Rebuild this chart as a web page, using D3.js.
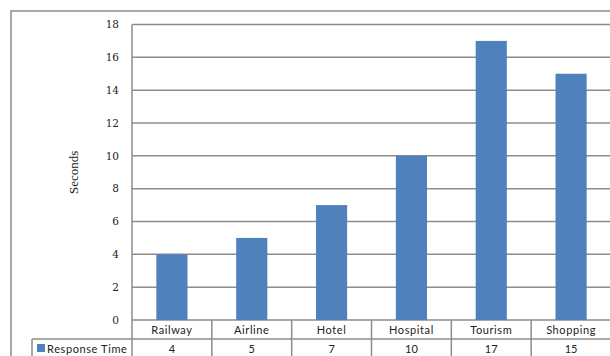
<!DOCTYPE html>
<html>
<head>
<meta charset="utf-8">
<script src="https://cdn.jsdelivr.net/npm/d3@7"></script>
<style>
  body { margin: 0; background: #fff; }
</style>
</head>
<body>
<div id="chart"></div>
<script>
// data
const categories = ["Railway", "Airline", "Hotel", "Hospital", "Tourism", "Shopping"];
const responseTime = [4, 5, 7, 10, 17, 15];
const yTicks = [0, 2, 4, 6, 8, 10, 12, 14, 16, 18];
const seriesName = "Response Time";
const yTitle = "Seconds";

const width = 610, height = 356;
const plot = { left: 132, right: 611, top: 24.5, bottom: 320 };
const rowH = 19;
const legendLeft = 32;
const gridColor = "#8c8c8c";
const barColor = "#4f81bd";

const svg = d3.select("#chart").append("svg")
    .attr("width", width)
    .attr("height", height);

// outer chart border (partly cut off)
svg.append("rect")
    .attr("x", 11).attr("y", 11)
    .attr("width", 640).attr("height", 400)
    .attr("fill", "none")
    .attr("stroke", gridColor)
    .attr("stroke-width", 1.5);

const x = d3.scaleBand()
    .domain(categories)
    .range([plot.left, plot.right])
    .paddingInner(0)
    .paddingOuter(0);

const y = d3.scaleLinear()
    .domain([0, 18])
    .range([plot.bottom, plot.top]);

// gridlines
svg.append("g")
    .selectAll("line")
    .data(yTicks)
    .enter()
    .append("line")
    .attr("x1", plot.left)
    .attr("x2", plot.right)
    .attr("y1", d => y(d))
    .attr("y2", d => y(d))
    .attr("stroke", gridColor)
    .attr("stroke-width", 1.5);

// y tick labels
svg.append("g")
    .selectAll("text")
    .data(yTicks)
    .enter()
    .append("text")
    .attr("x", 119)
    .attr("y", d => y(d))
    .attr("dy", "0.35em")
    .attr("text-anchor", "end")
    .style("font-family", "'DejaVu Serif', serif")
    .style("font-size", "10.5px")
    .style("fill", "#222")
    .text(d => d);

// axis title
svg.append("text")
    .attr("transform", `translate(78,${(plot.top + plot.bottom) / 2}) rotate(-90)`)
    .attr("text-anchor", "middle")
    .style("font-family", "'Liberation Serif', serif")
    .style("font-size", "13px")
    .style("fill", "#222")
    .text(yTitle);

// bars
const barW = x.bandwidth() * 0.39;
svg.append("g")
    .selectAll("rect")
    .data(categories)
    .enter()
    .append("rect")
    .attr("x", (d, i) => x(d) + (x.bandwidth() - barW) / 2)
    .attr("y", (d, i) => y(responseTime[i]))
    .attr("width", barW)
    .attr("height", (d, i) => y(0) - y(responseTime[i]))
    .attr("fill", barColor);

// data table
const table = svg.append("g");
const lineStyle = sel => sel.attr("stroke", gridColor).attr("stroke-width", 1.5);

// plot left edge down through table
table.append("line")
    .attr("x1", plot.left).attr("x2", plot.left)
    .attr("y1", plot.top).attr("y2", height + 5)
    .call(lineStyle);

// row line between category and value rows
table.append("line")
    .attr("x1", legendLeft).attr("x2", plot.right)
    .attr("y1", plot.bottom + rowH).attr("y2", plot.bottom + rowH)
    .call(lineStyle);

// legend cell left edge
table.append("line")
    .attr("x1", legendLeft).attr("x2", legendLeft)
    .attr("y1", plot.bottom + rowH).attr("y2", height + 5)
    .call(lineStyle);

// column separators
table.selectAll(".sep")
    .data(categories.slice(1))
    .enter()
    .append("line")
    .attr("x1", d => x(d)).attr("x2", d => x(d))
    .attr("y1", plot.bottom).attr("y2", height + 5)
    .call(lineStyle);

const cellFont = "'Lato', 'Open Sans', sans-serif";

// category labels
table.selectAll(".cat")
    .data(categories)
    .enter()
    .append("text")
    .attr("x", d => x(d) + x.bandwidth() / 2)
    .attr("y", plot.bottom + rowH / 2 + 0.5)
    .attr("dy", "0.35em")
    .attr("text-anchor", "middle")
    .style("font-family", cellFont)
    .style("font-size", "11px")
    .style("letter-spacing", "0.6px")
    .style("fill", "#222")
    .text(d => d);

// values
table.selectAll(".val")
    .data(responseTime)
    .enter()
    .append("text")
    .attr("x", (d, i) => x(categories[i]) + x.bandwidth() / 2)
    .attr("y", plot.bottom + rowH * 1.5 + 0.5)
    .attr("dy", "0.35em")
    .attr("text-anchor", "middle")
    .style("font-family", cellFont)
    .style("font-size", "11px")
    .style("fill", "#222")
    .text(d => d);

// legend key + series name
table.append("rect")
    .attr("x", 37).attr("y", plot.bottom + rowH + 5)
    .attr("width", 8).attr("height", 8)
    .attr("fill", barColor);

table.append("text")
    .attr("x", 47)
    .attr("y", plot.bottom + rowH * 1.5 + 0.5)
    .attr("dy", "0.35em")
    .style("font-family", cellFont)
    .style("font-size", "11px")
    .style("letter-spacing", "0.6px")
    .style("fill", "#222")
    .text(seriesName);
</script>
</body>
</html>
